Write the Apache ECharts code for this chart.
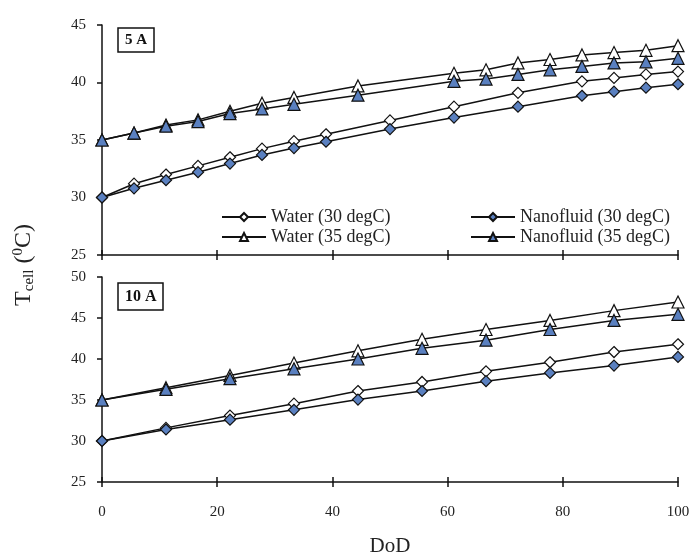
<!DOCTYPE html>
<html>
<head>
<meta charset="utf-8">
<script src="https://cdn.jsdelivr.net/npm/echarts@6/dist/echarts.min.js"></script>
<style>html,body{margin:0;padding:0;background:#fff}#c{width:694px;height:556px}</style>
</head>
<body>
<div id="c"></div>
<script>
// ---- data ----
const xTicks = [0, 20, 40, 60, 80, 100];
// 5 A panel
const dod5A_30 = [0, 5.56, 11.11, 16.67, 22.22, 27.78, 33.33, 38.89, 50, 61.11, 72.22, 83.33, 88.89, 94.44, 100];
const water30_5A = [30, 31.2, 32.0, 32.75, 33.5, 34.25, 34.9, 35.5, 36.7, 37.9, 39.1, 40.1, 40.4, 40.7, 40.95];
const nano30_5A  = [30, 30.8, 31.5, 32.2, 32.95, 33.7, 34.3, 34.85, 35.95, 36.95, 37.9, 38.85, 39.2, 39.55, 39.85];
const dod5A_35 = [0, 5.56, 11.11, 16.67, 22.22, 27.78, 33.33, 44.44, 61.11, 66.67, 72.22, 77.78, 83.33, 88.89, 94.44, 100];
const water35_5A = [35, 35.6, 36.3, 36.75, 37.5, 38.2, 38.7, 39.7, 40.8, 41.1, 41.7, 42.0, 42.4, 42.6, 42.8, 43.2];
const nano35_5A  = [35, 35.6, 36.2, 36.6, 37.3, 37.7, 38.1, 38.9, 40.1, 40.3, 40.7, 41.1, 41.4, 41.7, 41.8, 42.1];
// 10 A panel
const dod10A = [0, 11.11, 22.22, 33.33, 44.44, 55.56, 66.67, 77.78, 88.89, 100];
const water30_10A = [30, 31.6, 33.1, 34.55, 36.1, 37.2, 38.5, 39.6, 40.85, 41.8];
const nano30_10A  = [30, 31.4, 32.6, 33.8, 35.05, 36.1, 37.3, 38.3, 39.2, 40.25];
const water35_10A = [35, 36.5, 38.0, 39.5, 41.0, 42.4, 43.6, 44.7, 45.9, 46.95];
const nano35_10A  = [35, 36.3, 37.6, 38.8, 40.0, 41.3, 42.3, 43.6, 44.7, 45.45];
const names = ['Water (30 degC)', 'Nanofluid (30 degC)', 'Water (35 degC)', 'Nanofluid (35 degC)'];

// ---- styling ----
const FONT = '"Liberation Serif", "Times New Roman", serif';
const BLUE = '#5a80c0';
const zip = (xs, ys) => xs.map((x, i) => [x, ys[i]]);

function mkSeries(name, xi, yi, xs, ys, symbol, filled) {
  return {
    name, type: 'line', xAxisIndex: xi, yAxisIndex: yi,
    data: zip(xs, ys),
    symbol, symbolSize: symbol === 'triangle' ? 12 : 11,
    showSymbol: true,
    lineStyle: { color: '#111', width: 1.5 },
    itemStyle: { color: filled ? BLUE : '#fff', borderColor: '#111', borderWidth: 1.2 },
    emphasis: { disabled: true },
    animation: false,
    z: filled ? 3 : 2
  };
}

function mkX(gridIndex, showLabels, inside) {
  return {
    type: 'value', gridIndex, min: 0, max: 100, interval: 20, position: 'bottom',
    axisLine: { show: !inside, lineStyle: { color: '#111', width: 1.5 } },
    axisTick: { show: true, inside: inside, length: 5, lineStyle: { color: '#111', width: 1.5 } },
    axisLabel: { show: showLabels && !inside, margin: 23, fontFamily: FONT, fontSize: 15, color: '#222' },
    splitLine: { show: false },
    name: (showLabels && !inside) ? 'DoD' : '',
    nameLocation: 'middle', nameGap: 54,
    nameTextStyle: { fontFamily: FONT, fontSize: 21, color: '#222' }
  };
}
function mkY(gridIndex, max) {
  return {
    type: 'value', gridIndex, min: 25, max, interval: 5,
    axisLine: { show: true, lineStyle: { color: '#111', width: 1.5 } },
    axisTick: { show: true, length: 5, lineStyle: { color: '#111', width: 1.5 } },
    axisLabel: { margin: 16, fontFamily: FONT, fontSize: 15, color: '#222' },
    splitLine: { show: false }
  };
}

const legendCommon = {
  orient: 'vertical', top: 203, itemWidth: 44, itemHeight: 10, itemGap: 2,
  textStyle: { fontFamily: FONT, fontSize: 18, color: '#222' },
  selectedMode: false
};

const option = {
  animation: false,
  backgroundColor: '#fff',
  grid: [
    { left: 102, right: 16, top: 25, height: 230, outerBoundsMode: 'none', containLabel: false },
    { left: 102, right: 16, top: 277, height: 205, outerBoundsMode: 'none', containLabel: false }
  ],
  xAxis: [mkX(0, false, false), mkX(0, false, true), mkX(1, true, false), mkX(1, true, true)],
  yAxis: [mkY(0, 45), mkY(1, 50)],
  legend: [
    Object.assign({ left: 216, data: [names[0], names[2]] }, legendCommon),
    Object.assign({ left: 465, data: [names[1], names[3]] }, legendCommon)
  ],
  title: [
    { text: '5 A', left: 118, top: 28, padding: [5, 7, 4, 7], borderColor: '#111', borderWidth: 1.5,
      textStyle: { fontFamily: FONT, fontSize: 15, fontWeight: 'bold', color: '#111' } },
    { text: '10 A', left: 118, top: 283, padding: [6, 7, 5, 7], borderColor: '#111', borderWidth: 1.5,
      textStyle: { fontFamily: FONT, fontSize: 16, fontWeight: 'bold', color: '#111' } }
  ],
  graphic: [{
    type: 'text', x: 24, y: 265, rotation: Math.PI / 2,
    style: {
      text: '{a|T}{b|cell}{a| (}{c|0}{a|C)}',
      align: 'center', verticalAlign: 'middle',
      fill: '#222',
      rich: {
        a: { fontFamily: FONT, fontSize: 24, fill: '#222' },
        b: { fontFamily: FONT, fontSize: 15, fill: '#222', padding: [11, 0, 0, 0] },
        c: { fontFamily: FONT, fontSize: 15, fill: '#222', padding: [0, 0, 11, 0] }
      }
    }
  }],
  series: [
    mkSeries(names[0], 0, 0, dod5A_30, water30_5A, 'diamond', false),
    mkSeries(names[2], 0, 0, dod5A_35, water35_5A, 'triangle', false),
    mkSeries(names[1], 0, 0, dod5A_30, nano30_5A, 'diamond', true),
    mkSeries(names[3], 0, 0, dod5A_35, nano35_5A, 'triangle', true),
    mkSeries(names[0], 2, 1, dod10A, water30_10A, 'diamond', false),
    mkSeries(names[2], 2, 1, dod10A, water35_10A, 'triangle', false),
    mkSeries(names[1], 2, 1, dod10A, nano30_10A, 'diamond', true),
    mkSeries(names[3], 2, 1, dod10A, nano35_10A, 'triangle', true)
  ]
};

const chart = echarts.init(document.getElementById('c'), null, { renderer: 'canvas' });
chart.setOption(option);
</script>
</body>
</html>
